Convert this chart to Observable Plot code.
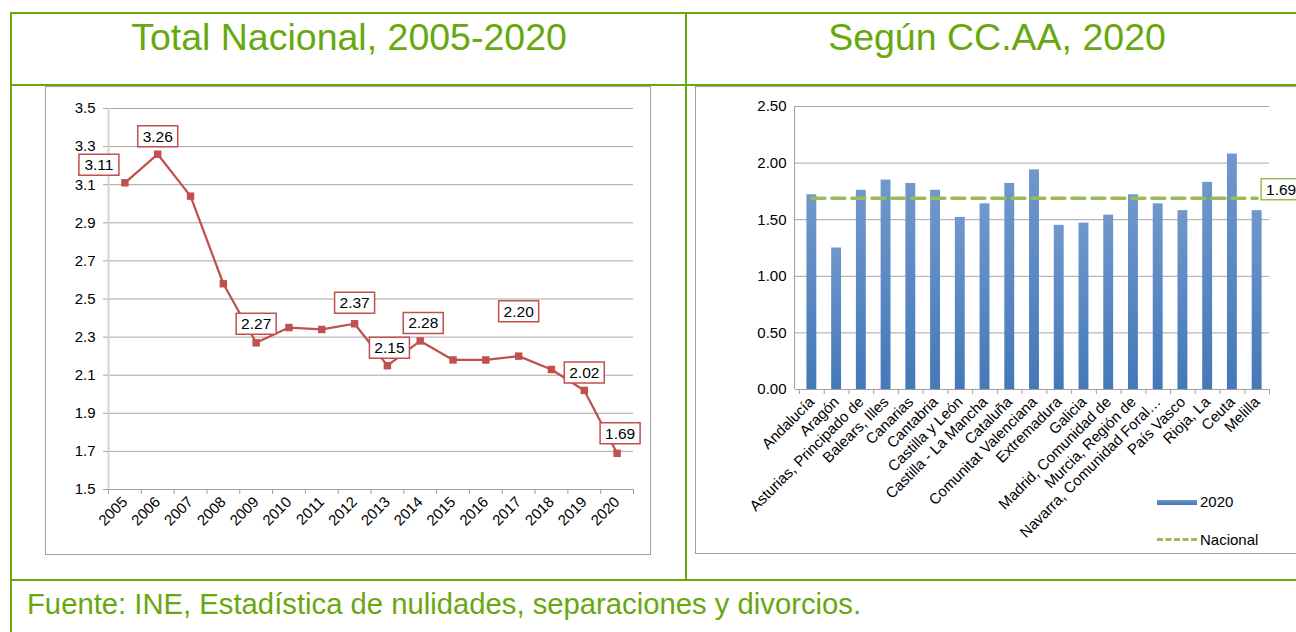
<!DOCTYPE html>
<html><head><meta charset="utf-8">
<script src="https://cdn.jsdelivr.net/npm/d3@7"></script>
<script src="https://cdn.jsdelivr.net/npm/@observablehq/plot@0.6"></script>
<style>
html,body{margin:0;padding:0;background:#fff;width:1296px;height:632px;overflow:hidden;font-family:"Liberation Sans",Arial,sans-serif;}
#page{position:relative;width:1296px;height:632px;overflow:hidden;}
.g{position:absolute;background:#66a80e;}
.title{position:absolute;color:#66a80e;font-size:37.5px;line-height:37px;white-space:nowrap;transform:translateX(-50%);}
.foot{position:absolute;color:#66a80e;font-size:29.25px;line-height:29px;white-space:nowrap;}
.frame{position:absolute;border:1px solid #a0a0a0;box-sizing:border-box;background:#fff;}
.plotbox{position:absolute;}
.leg{position:absolute;font-size:15px;line-height:16px;color:#000;white-space:nowrap;}
</style>
</head><body>
<div id="page">
  <div class="frame" style="left:45px;top:86px;width:606px;height:469px;"></div>
  <div class="frame" style="left:695px;top:86px;width:640px;height:468px;"></div>
  <div class="plotbox" id="left" style="left:46px;top:87px;"></div>
  <div class="plotbox" id="right" style="left:696px;top:87px;"></div>

  <div class="g" style="left:10px;top:12px;width:1300px;height:2px;"></div>
  <div class="g" style="left:10px;top:12px;width:2px;height:620px;"></div>
  <div class="g" style="left:10px;top:84px;width:1300px;height:2px;"></div>
  <div class="g" style="left:685px;top:12px;width:2px;height:569px;"></div>
  <div class="g" style="left:10px;top:579px;width:1300px;height:2px;"></div>

  <div class="title" style="left:349px;top:19px;">Total Nacional, 2005-2020</div>
  <div class="title" style="left:997px;top:19px;">Según CC.AA, 2020</div>
  <div class="foot" style="left:27px;top:590px;">Fuente: INE, Estadística de nulidades, separaciones y divorcios.</div>

  <div class="leg" style="left:1157px;top:500px;width:40px;height:5px;background:linear-gradient(#6d97cb,#4477b9);"></div>
  <div class="leg" style="left:1200px;top:494px;">2020</div>
  <div class="leg" style="left:1157px;top:538px;width:40px;height:0;border-top:3px dashed #9bbb59;"></div>
  <div class="leg" style="left:1200px;top:532px;">Nacional</div>
</div>
<script>
// ---- Data: Total Nacional ----
const years = ["2005","2006","2007","2008","2009","2010","2011","2012","2013","2014","2015","2016","2017","2018","2019","2020"];
const nationalValues = [3.11,3.26,3.04,2.58,2.27,2.35,2.34,2.37,2.15,2.28,2.18,2.18,2.20,2.13,2.02,1.69];
const labelledYears = ["2005","2006","2009","2012","2013","2014","2017","2019","2020"];
const leftTicks = [1.5,1.7,1.9,2.1,2.3,2.5,2.7,2.9,3.1,3.3,3.5];

// ---- Data: Según CC.AA 2020 ----
const regions = ["Andalucía","Aragón","Asturias, Principado de","Balears, Illes","Canarias","Cantabria","Castilla y León","Castilla - La Mancha","Cataluña","Comunitat Valenciana","Extremadura","Galicia","Madrid, Comunidad de","Murcia, Región de","Navarra, Comunidad Foral…","País Vasco","Rioja, La","Ceuta","Melilla"];
const regionValues = [1.72,1.25,1.76,1.85,1.82,1.76,1.52,1.64,1.82,1.94,1.45,1.47,1.54,1.72,1.64,1.58,1.83,2.08,1.58];
const nacional2020 = 1.69;
const rightTicks = [0,0.5,1.0,1.5,2.0,2.5];

const lineData = years.map((y,i)=>({year:y, value:nationalValues[i]}));
const barData = regions.map((r,i)=>({region:r, value:regionValues[i]}));
const nacData = regions.map(r=>({region:r, value:nacional2020}));

const red = "#c0504d", green = "#9bbb59";
const font = "'Liberation Sans', Arial, sans-serif";
const boxSymbol = {draw(ctx){ ctx.moveTo(-20,-10.5); ctx.lineTo(20,-10.5); ctx.lineTo(20,10.5); ctx.lineTo(-20,10.5); ctx.closePath(); }};

// label offsets (pixel styling)
const off = {"2005":[-26,-18],"2006":[0,-18],"2009":[0,-19],"2012":[0,-21],"2013":[2,-18],"2014":[3,-18],"2017":[0,-45],"2019":[0,-18],"2020":[3,-20]};

// ---- Left chart ----
const LW = 604, LH = 467, LML = 62, LMR = 17;
const lstep = (LW - LML - LMR) / years.length;
const labelMarks = labelledYears.flatMap(yr => {
  const d = lineData.filter(e => e.year === yr);
  const [dx, dy] = off[yr];
  return [
    Plot.dot(d, {x:"year", y:"value", symbol: boxSymbol, r: 5, fill:"white", stroke: red, strokeWidth: 1.5, dx, dy}),
    Plot.text(d, {x:"year", y:"value", text: e => e.value.toFixed(2), dx, dy: dy + 0.5, fontSize: 15.5, fill:"#000"})
  ];
});
const left = Plot.plot({
  width: LW, height: LH,
  marginLeft: LML, marginRight: LMR, marginTop: 21, marginBottom: 65,
  style: {fontFamily: font, fontSize: "15px", color: "#000", background: "white", overflow: "visible"},
  x: {type: "point", domain: years, padding: 0.5, round: false},
  y: {domain: [1.5, 3.5]},
  marks: [
    Plot.gridY(leftTicks, {stroke: "#a6a6a6", strokeOpacity: 1}),
    Plot.ruleX([years[0]], {dx: -lstep/2, stroke: "#d4d4d4", strokeWidth: 2}),
    Plot.ruleY([1.5], {stroke: "#a0a0a0"}),
    Plot.axisY({ticks: leftTicks, tickFormat: d3.format(".1f"), tickSize: 5, tickPadding: 8, stroke: "#a6a6a6", fill: "#000", fontSize: 15, label: null}),
    Plot.axisX({tickSize: 5, text: null, dx: -lstep/2, stroke: "#a0a0a0", label: null}),
    Plot.axisX({ticks: [years[years.length-1]], tickSize: 5, text: null, dx: lstep/2, stroke: "#a0a0a0", label: null}),
    Plot.axisX({tickSize: 0, tickPadding: 10, tickRotate: -45, fill: "#000", fontSize: 15, label: null}),
    Plot.line(lineData, {x:"year", y:"value", stroke: red, strokeWidth: 2.25}),
    Plot.dot(lineData, {x:"year", y:"value", symbol:"square", r: 4.2, fill: red}),
    ...labelMarks
  ]
});
document.getElementById("left").appendChild(left);

// ---- Right chart ----
const RW = 600, RH = 466, RML = 103, RMR = 27;
const rstep = (RW - RML - RMR) / regions.length;
const right = Plot.plot({
  width: RW, height: RH,
  marginLeft: RML, marginRight: RMR, marginTop: 19, marginBottom: 164,
  style: {fontFamily: font, fontSize: "15px", color: "#000", background: "white", overflow: "visible"},
  x: {type: "band", domain: regions, paddingInner: 0.6, paddingOuter: 0.3, round: false},
  y: {domain: [0, 2.5]},
  marks: [
    Plot.gridY(rightTicks, {stroke: "#a6a6a6", strokeOpacity: 1}),
    Plot.ruleX([regions[0]], {dx: -rstep/2 - rstep*0.2, stroke: "#a0a0a0", strokeWidth: 1}),
    Plot.axisY({ticks: rightTicks, tickFormat: d3.format(".2f"), tickSize: 4, tickPadding: 9, stroke: "#a0a0a0", fill: "#000", fontSize: 15, label: null}),
    Plot.barY(barData, {x:"region", y:"value", fill:"#4f81bd"}),
    Plot.ruleY([0], {stroke: "#a0a0a0"}),
    Plot.axisX({tickSize: 5, text: null, dx: -rstep/2, stroke: "#a0a0a0", label: null}),
    Plot.axisX({ticks: [regions[regions.length-1]], tickSize: 5, text: null, dx: rstep/2, stroke: "#a0a0a0", label: null}),
    Plot.axisX({tickSize: 0, tickPadding: 10, tickRotate: -45, fill: "#000", fontSize: 15, label: null}),
    Plot.line(nacData, {x:"region", y:"value", stroke: green, strokeWidth: 3.5, strokeDasharray: "13,7"}),
    Plot.dot(nacData.slice(-1), {x:"region", y:"value", symbol: boxSymbol, r: 5, fill:"white", stroke: green, strokeWidth: 1.5, dx: 24, dy: -9}),
    Plot.text(nacData.slice(-1), {x:"region", y:"value", text: d => d.value.toFixed(2), dx: 24, dy: -8.5, fontSize: 15.5, fill:"#000"})
  ]
});
// gradient for bars
const ns = "http://www.w3.org/2000/svg";
const defs = document.createElementNS(ns, "defs");
defs.innerHTML = '<linearGradient id="barGrad" x1="0" y1="0" x2="0" y2="1"><stop offset="0" stop-color="#6f98cc"/><stop offset="1" stop-color="#4478b9"/></linearGradient>';
right.insertBefore(defs, right.firstChild);
right.querySelectorAll('g[aria-label="bar"]').forEach(g => g.setAttribute("fill", "url(#barGrad)"));
document.getElementById("right").appendChild(right);
</script>
</body></html>
